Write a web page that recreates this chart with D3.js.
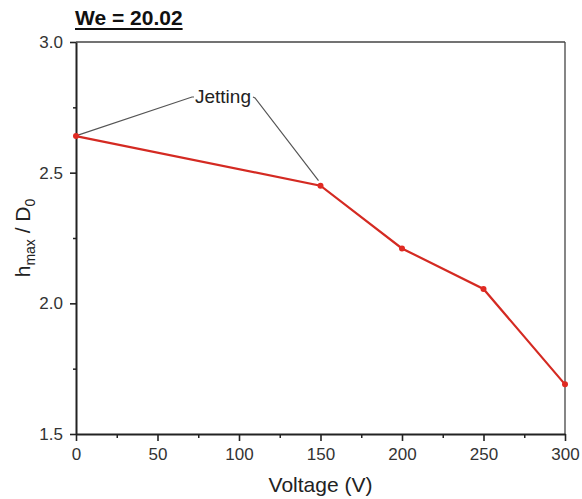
<!DOCTYPE html>
<html><head><meta charset="utf-8">
<script src="https://cdn.jsdelivr.net/npm/d3@7"></script>
<style>body{margin:0;background:#fff}svg{display:block}text{font-family:"Liberation Sans",Arial,sans-serif}</style>
</head><body>
<svg id="c" width="582" height="499"></svg>
<script>
const voltage = [0, 150, 200, 250, 300];
const hmax = [2.64, 2.45, 2.21, 2.055, 1.69];
const xTicks = [0, 50, 100, 150, 200, 250, 300];
const yTicks = [1.5, 2.0, 2.5, 3.0];
const title = "We = 20.02";
const annotation = "Jetting";

const svg = d3.select("#c");
const m = {l:76, r:565, t:42, b:434};
const x = d3.scaleLinear().domain([0,300]).range([m.l,m.r]);
const y = d3.scaleLinear().domain([1.5,3.0]).range([m.b,m.t]);
const axCol = "#222";

// frame top & right
svg.append("line").attr("x1",m.l).attr("x2",m.r).attr("y1",m.t).attr("y2",m.t).attr("stroke","#444").attr("stroke-width",1.3);
svg.append("line").attr("x1",m.r).attr("x2",m.r).attr("y1",m.t).attr("y2",m.b).attr("stroke","#444").attr("stroke-width",1.3);

// x axis
const gx = svg.append("g").attr("transform",`translate(0,${m.b})`)
  .call(d3.axisBottom(x).tickValues(xTicks).tickFormat(d3.format("d")).tickSize(7).tickSizeOuter(0).tickPadding(7));
gx.select(".domain").attr("stroke",axCol).attr("stroke-width",2);
gx.selectAll(".tick line").attr("stroke",axCol).attr("stroke-width",1.6);
gx.selectAll(".tick text").attr("font-size",17).attr("fill","#333");
svg.append("g").attr("transform",`translate(0,${m.b})`)
  .call(d3.axisBottom(x).tickValues([25,75,125,175,225,275]).tickFormat("").tickSize(4).tickSizeOuter(0))
  .call(g=>{g.select(".domain").remove();g.selectAll(".tick line").attr("stroke",axCol).attr("stroke-width",1.5);});

// y axis
const gy = svg.append("g").attr("transform",`translate(${m.l},0)`)
  .call(d3.axisLeft(y).tickValues(yTicks).tickFormat(d3.format(".1f")).tickSize(6).tickSizeOuter(0).tickPadding(7));
gy.select(".domain").attr("stroke",axCol).attr("stroke-width",2);
gy.selectAll(".tick line").attr("stroke",axCol).attr("stroke-width",1.6);
gy.selectAll(".tick text").attr("font-size",17).attr("fill","#333");
svg.append("g").attr("transform",`translate(${m.l},0)`)
  .call(d3.axisLeft(y).tickValues([1.75,2.25,2.75]).tickFormat("").tickSize(3).tickSizeOuter(0))
  .call(g=>{g.select(".domain").remove();g.selectAll(".tick line").attr("stroke",axCol).attr("stroke-width",1.5);});

// annotation lines
const lab = {x: 223, y: 97};
svg.append("polyline").attr("points",`${x(0)+2},${y(hmax[0])-1} ${lab.x-31},${lab.y} ${lab.x-29},${lab.y}`).attr("fill","none").attr("stroke","#555").attr("stroke-width",1.2);
svg.append("polyline").attr("points",`${lab.x+30},${lab.y} ${lab.x+32},${lab.y+1} ${x(150)-2},${y(hmax[1])-5}`).attr("fill","none").attr("stroke","#555").attr("stroke-width",1.2);
svg.append("text").attr("x",lab.x).attr("y",lab.y+6).attr("text-anchor","middle").attr("font-size",19).attr("fill","#222").text(annotation);

// data line
const data = voltage.map((v,i)=>({v, h:hmax[i]}));
svg.append("path").datum(data).attr("fill","none").attr("stroke","#d42a22").attr("stroke-width",2.2)
  .attr("d", d3.line().x(d=>x(d.v)).y(d=>y(d.h)));
svg.selectAll("circle.pt").data(data).join("circle").attr("class","pt")
  .attr("cx",d=>x(d.v)).attr("cy",d=>y(d.h)).attr("r",3).attr("fill","#e02a22");

// title
const t = svg.append("text").attr("x",75).attr("y",25).attr("font-size",21).attr("font-weight","bold").attr("fill","#111").text(title);
const tw = t.node().getComputedTextLength();
svg.append("line").attr("x1",75).attr("x2",75+tw).attr("y1",29).attr("y2",29).attr("stroke","#111").attr("stroke-width",2);

// axis labels
svg.append("text").attr("x",(m.l+m.r)/2).attr("y",492).attr("text-anchor","middle").attr("font-size",21).attr("fill","#222").text("Voltage (V)");
const yl = svg.append("text").attr("transform",`translate(30,${(m.t+m.b)/2}) rotate(-90)`).attr("text-anchor","middle").attr("font-size",21).attr("fill","#222");
yl.append("tspan").text("h");
yl.append("tspan").attr("font-size",14).attr("dy",5).text("max");
yl.append("tspan").attr("dy",-5).text(" / D");
yl.append("tspan").attr("font-size",14).attr("dy",5).text("0");
</script>
</body></html>
